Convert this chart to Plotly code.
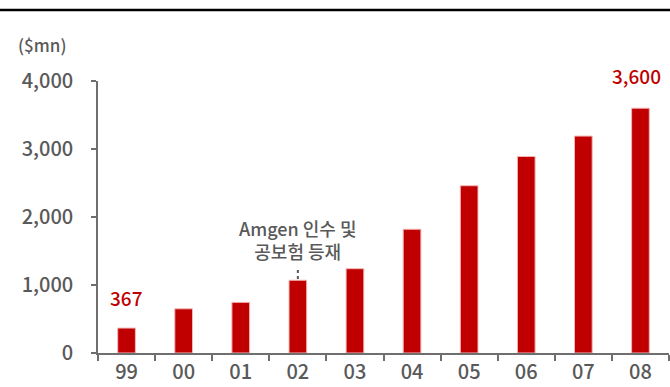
import plotly.graph_objects as go

years = ["99", "00", "01", "02", "03", "04", "05", "06", "07", "08"]
sales = [367, 650, 745, 1070, 1240, 1820, 2460, 2890, 3190, 3600]
ytick_vals = [0, 1000, 2000, 3000, 4000]
ytick_text = ["0", "1,000", "2,000", "3,000", "4,000"]
event_year = "02"
event_text = "Amgen 인수 및<br>공보험 등재"

FONT = "Noto Sans CJK KR"
GRAY = "#595959"
RED = "#C00000"
WT = 500

fig = go.Figure()
fig.add_trace(go.Bar(
    x=years, y=sales,
    marker=dict(color=RED, line=dict(color="#f2b8b8", width=1)),
    width=0.31,
    cliponaxis=False,
))

L, R, T, B = 98, 1, 81, 34
W, H = 670, 387
pw = W - L - R
ph = H - T - B

fig.update_layout(
    width=W, height=H,
    margin=dict(l=L, r=R, t=T, b=B),
    plot_bgcolor="white", paper_bgcolor="white",
    showlegend=False,
    font=dict(family=FONT, color=GRAY, size=18, weight=WT),
    xaxis=dict(
        type="category", showgrid=False,
        categoryorder="array", categoryarray=years,
        range=[-0.5, len(years) - 0.5],
        showline=True, linecolor="#6f6f6f", linewidth=2,
        ticks="outside", tickson="boundaries", ticklen=6, tickwidth=2, tickcolor="#6f6f6f",
        tickfont=dict(size=20, color=GRAY, family=FONT, weight=WT),
        tickangle=0,
    ),
    yaxis=dict(
        range=[0, 4000], showgrid=False, zeroline=False,
        showline=True, linecolor="#6f6f6f", linewidth=1.5,
        ticks="outside", ticklen=5, tickwidth=1.5, tickcolor="#6f6f6f",
        tickvals=ytick_vals, ticktext=ytick_text,
        tickfont=dict(size=20, color=GRAY, family=FONT, weight=WT),
        ticklabelstandoff=14,
    ),
)

# top border line
fig.add_shape(type="line", xref="paper", yref="paper",
              x0=-L / pw, x1=(W - L) / pw,
              y0=1 + (T - 10) / ph, y1=1 + (T - 10) / ph,
              line=dict(color="black", width=2.5))

# unit label
fig.add_annotation(xref="paper", yref="paper", x=-(L - 16) / pw, y=1 + (T - 44) / ph,
                   xanchor="left", yanchor="middle", showarrow=False,
                   text="($mn)", font=dict(size=17, color=GRAY, family=FONT, weight=WT))

# value labels (category index positions)
fig.add_annotation(x=0, y=sales[0], yanchor="bottom", yshift=15, showarrow=False,
                   text=f"{sales[0]:,}", font=dict(size=19, color=RED, family=FONT, weight=WT))
fig.add_annotation(x=len(years) - 1, y=sales[-1], xshift=-4, yanchor="bottom", yshift=17,
                   showarrow=False,
                   text=f"{sales[-1]:,}", font=dict(size=19, color=RED, family=FONT, weight=WT))

# event note
ei = years.index(event_year)
fig.add_annotation(x=ei, y=1670, yanchor="middle", showarrow=False,
                   text=event_text,
                   font=dict(size=18, color=GRAY, family=FONT, weight=WT))
fig.add_shape(type="line", xref="x", yref="y", x0=ei, x1=ei, y0=1090, y1=1265,
              line=dict(color=GRAY, width=2, dash="dot"))

fig.write_html("out.html")
